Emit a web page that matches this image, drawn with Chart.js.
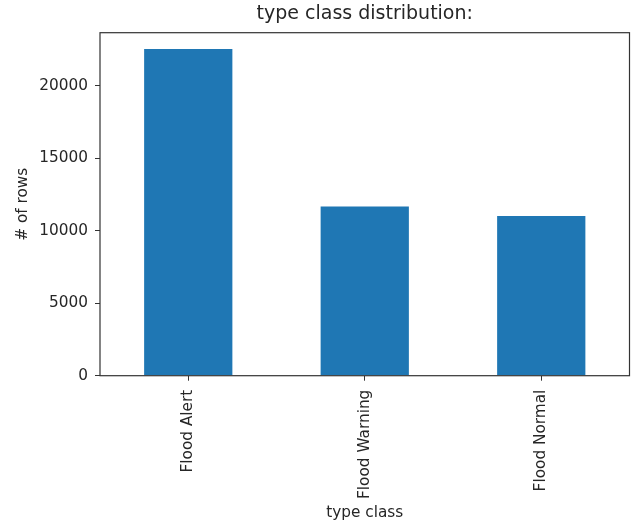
<!DOCTYPE html>
<html lang="en">
<head>
  <meta charset="UTF-8" />
  <title>type class distribution</title>
  <script src="https://cdn.jsdelivr.net/npm/chart.js"></script>
  <style>
    html, body { margin: 0; padding: 0; background: #fff; }
    #wrap { width: 633px; height: 525px; }
  </style>
</head>
<body>
  <div id="wrap"><canvas id="classChart" width="633" height="525"></canvas></div>
  <script>
    // values
    const categories = ['Flood Alert', 'Flood Warning', 'Flood Normal'];
    const rowCounts = [22525, 11675, 11008];
    const yTicks = [0, 5000, 10000, 15000, 20000];
    const yMax = 23650;

    const ink = '#262626';
    const font = { family: 'DejaVu Sans', size: 15.3 };

    // full box around the plot, like matplotlib spines
    const frame = {
      id: 'frame',
      afterDatasetsDraw(chart) {
        const a = chart.chartArea, ctx = chart.ctx;
        ctx.save();
        ctx.strokeStyle = '#333';
        ctx.lineWidth = 1.2;
        ctx.strokeRect(a.left, a.top, a.right - a.left, a.bottom - a.top);
        ctx.restore();
      }
    };

    new Chart(document.getElementById('classChart').getContext('2d'), {
      type: 'bar',
      data: {
        labels: categories,
        datasets: [{
          data: rowCounts,
          backgroundColor: '#1f77b4',
          barPercentage: 0.5,
          categoryPercentage: 1.0
        }]
      },
      options: {
        responsive: false,
        animation: false,
        devicePixelRatio: 1,
        layout: { padding: { left: 0, right: 3.5, top: 0, bottom: 0 } },
        plugins: {
          legend: { display: false },
          tooltip: { enabled: false },
          title: {
            display: true,
            fullSize: false, // center over the plot, not the canvas
            text: 'type class distribution:',
            color: ink,
            font: { family: 'DejaVu Sans', size: 19, weight: 'normal' },
            padding: { top: 3, bottom: 6.9 }
          }
        },
        scales: {
          x: {
            grid: { offset: false, drawOnChartArea: false, drawTicks: true, tickLength: 5, color: '#333' },
            border: { display: false },
            ticks: {
              color: ink, font: font, padding: 9,
              maxRotation: 90, minRotation: 90, autoSkip: false
            },
            title: {
              display: true, text: 'type class', color: ink, font: font,
              padding: { top: 0, bottom: 3 }
            },
            afterFit(scale) { scale.height = 149.3; }
          },
          y: {
            min: 0,
            max: yMax,
            grid: { drawOnChartArea: false, drawTicks: true, tickLength: 5, color: '#333' },
            border: { display: false },
            afterBuildTicks(scale) { scale.ticks = yTicks.map(v => ({ value: v })); },
            ticks: { color: ink, font: font, padding: 7, callback: v => String(v) },
            title: {
              display: true, text: '# of rows', color: ink, font: font,
              padding: { top: 14, bottom: 0 }
            },
            afterFit(scale) { scale.width = 100; }
          }
        }
      },
      plugins: [frame]
    });
  </script>
</body>
</html>
